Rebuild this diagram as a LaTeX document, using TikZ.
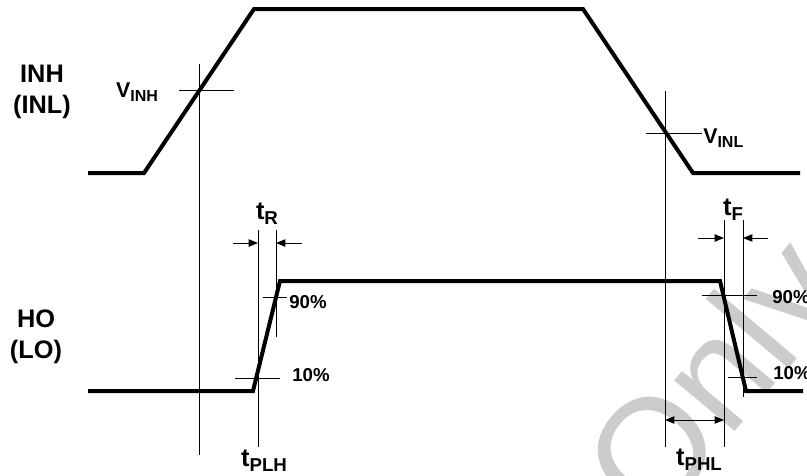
\documentclass[tikz,border=0pt]{standalone}
\usepackage{fontspec}
\setmainfont{Liberation Sans}
\usetikzlibrary{arrows.meta}
\newcommand{\mysubs}[1]{{\fontsize{12}{12}\selectfont\raisebox{-0.28em}{#1}}}
\newcommand{\mytsubs}[1]{{\fontsize{14}{14}\selectfont\raisebox{-0.28em}{#1}}}
\begin{document}
\begin{tikzpicture}[x=0.75pt,y=-0.75pt,
  wave/.style={line width=3pt, line join=miter},
  guide/.style={line width=0.6pt},
  dimarrow/.style={line width=0.75pt,-{Triangle[length=7pt,width=5.5pt]}},
  dimboth/.style={line width=0.75pt,{Triangle[length=7pt,width=5.5pt]}-{Triangle[length=7pt,width=5.5pt]}},
  siglbl/.style={font=\bfseries\fontsize{19}{23.5}\selectfont, align=center, inner sep=0},
  sym/.style={font=\bfseries\fontsize{16}{18}\selectfont, inner sep=0},
  tsym/.style={font=\bfseries\fontsize{19}{20}\selectfont, inner sep=0},
  pct/.style={font=\bfseries\fontsize{14}{16}\selectfont, inner sep=0, anchor=west},
  wmark/.style={text=black!20, font=\fontsize{112}{112}\selectfont, inner sep=0}]
\useasboundingbox (0,0) rectangle (807,475);

% watermark
\begin{scope}
\clip (0,0) rectangle (807,475);
\node[wmark, rotate=50, anchor=base west] (wm) at (654,529) {Only};
\end{scope}

% input waveform
\draw[wave] (88,173) -- (144,173) -- (254,9) -- (583,9) -- (693,173) -- (800,173);
% output waveform
\draw[wave] (88,391) -- (253,391) -- (280,281) -- (720,281) -- (746,391) -- (803,391);

% guide coordinates
\coordinate (vinhT) at (199,64);   \coordinate (vinhB) at (199,455);
\coordinate (vinhL) at (179,90);   \coordinate (vinhR) at (234,90);
\coordinate (vinlT) at (665,91);   \coordinate (vinlB) at (665,447);
\coordinate (vinlL) at (646,133);  \coordinate (vinlR) at (702,133);
\coordinate (trLT) at (258,230);   \coordinate (trLB) at (258,447);
\coordinate (trRT) at (276,230);   \coordinate (trRB) at (276,337);
\coordinate (tfLT) at (724,220);   \coordinate (tfLB) at (724,447);
\coordinate (tfRT) at (743,220);   \coordinate (tfRB) at (743,397);
\coordinate (r90L) at (263,297);   \coordinate (r90R) at (287,297);
\coordinate (r10L) at (235,378);   \coordinate (r10R) at (280,378);
\coordinate (f90L) at (702,295);   \coordinate (f90R) at (757,295);
\coordinate (f10L) at (728,377);   \coordinate (f10R) at (757,377);

\draw[guide] (vinhT) -- (vinhB);
\draw[guide] (vinhL) -- (vinhR);
\draw[guide] (vinlT) -- (vinlB);
\draw[guide] (vinlL) -- (vinlR);
\draw[guide] (trLT) -- (trLB);
\draw[guide] (trRT) -- (trRB);
\draw[guide] (tfLT) -- (tfLB);
\draw[guide] (tfRT) -- (tfRB);
\draw[guide] (r90L) -- (r90R);
\draw[guide] (r10L) -- (r10R);
\draw[guide] (f90L) -- (f90R);
\draw[guide] (f10L) -- (f10R);

% dimension arrows
\coordinate (trA1) at (233,243); \coordinate (trA2) at (258,243);
\coordinate (trB1) at (302,243); \coordinate (trB2) at (276,243);
\coordinate (tfA1) at (698,238); \coordinate (tfA2) at (724,238);
\coordinate (tfB1) at (768,238); \coordinate (tfB2) at (743,238);
\coordinate (phlA) at (665,420); \coordinate (phlB) at (724,420);
\draw[dimarrow] (trA1) -- (trA2);
\draw[dimarrow] (trB1) -- (trB2);
\draw[dimarrow] (tfA1) -- (tfA2);
\draw[dimarrow] (tfB1) -- (tfB2);
\draw[dimboth] (phlA) -- (phlB);

% labels
\node[siglbl] (inh) at (42,92) {INH\\(INL)};
\node[siglbl] (ho) at (36,337) {HO\\(LO)};
\node[sym] (vinh) at (137,92) {V\mysubs{INH}};
\node[sym, anchor=west] (vinl) at (703,138) {V\mysubs{INL}};
\node[tsym] (tr) at (267,214) {t\mytsubs{R}};
\node[tsym] (tf) at (733,210) {t\mytsubs{F}};
\node[tsym] (tplh) at (264,461) {t\mytsubs{PLH}};
\node[tsym] (tphl) at (699,460) {t\mytsubs{PHL}};
\node[pct] (p90r) at (289,302) {90\%};
\node[pct] (p10r) at (292,375) {10\%};
\node[pct] (p90f) at (772,297) {90\%};
\node[pct] (p10f) at (773,373) {10\%};
\end{tikzpicture}
\end{document}
